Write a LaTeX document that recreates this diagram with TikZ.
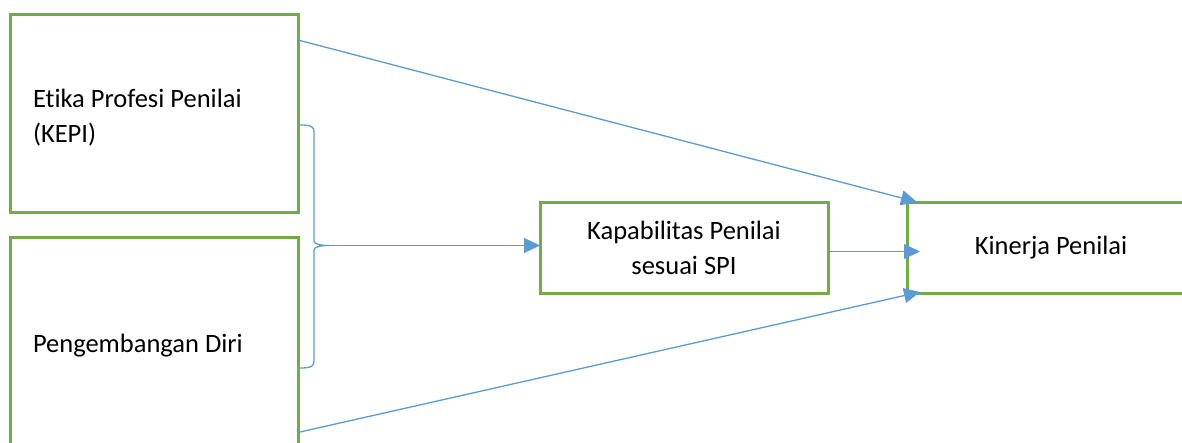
\documentclass[tikz,border=0pt]{standalone}
\usepackage{fontspec}
\setmainfont[Ligatures=NoCommon]{Carlito}
\usetikzlibrary{calc}
\usetikzlibrary{arrows.meta}
\definecolor{boxgreen}{HTML}{70AD47}
\definecolor{arrowblue}{HTML}{5B9BD5}

\begin{document}
\begin{tikzpicture}[x=1pt, y=-1pt, every node/.style={draw=boxgreen, line width=3pt, inner sep=0pt, outer sep=0pt, font=\fontsize{26.5}{35}\selectfont}, conn/.style={draw=arrowblue, line width=1.3pt, -{Triangle[length=16pt,width=15pt]}}]
\useasboundingbox (0,0) rectangle (1182,442);

\node[minimum width=288, minimum height=198, text width=242, align=flush left] (etika) at (154,113) {\rule{0pt}{27pt}Etika Profesi Penilai\\(KEPI)};
\node[minimum width=288, minimum height=218, text width=242, align=flush left] (diri) at (154,346) {Pengembangan Diri};
\node[minimum width=288, minimum height=91, align=center] (kapab) at (684,247.5) {Kapabilitas Penilai\\sesuai SPI};
\node[minimum width=288, minimum height=91, align=center] (kinerja) at (1051,247.5) {Kinerja Penilai};

\coordinate (bracetop) at (300,125);
\coordinate (brace) at (329,245.5);
\coordinate (bracebot) at (300,368);

% brace
\draw[arrowblue, line width=1.3pt] (bracetop) .. controls (312,125) and (314,127) .. (314,132) -- (314,241)
  .. controls (314,244) and (320,245.5) .. (brace) .. controls (320,245.5) and (314,247) .. (314,250)
  -- (314,361) .. controls (314,366) and (312,368) .. (bracebot);
%
\draw[conn] (brace) -- (brace -| kapab.west);
\draw[conn] ([yshift=-4pt]kapab.east) -- ([xshift=13pt,yshift=-4pt]kinerja.west);
\draw[conn] ($(etika.north east)+(0,26)$) -- ($(kinerja.north west)+(10,0)$);
\draw[conn] ($(diri.north east)+(2,195)$) -- ($(kinerja.south west)+(13,-1)$);
\end{tikzpicture}
\end{document}
